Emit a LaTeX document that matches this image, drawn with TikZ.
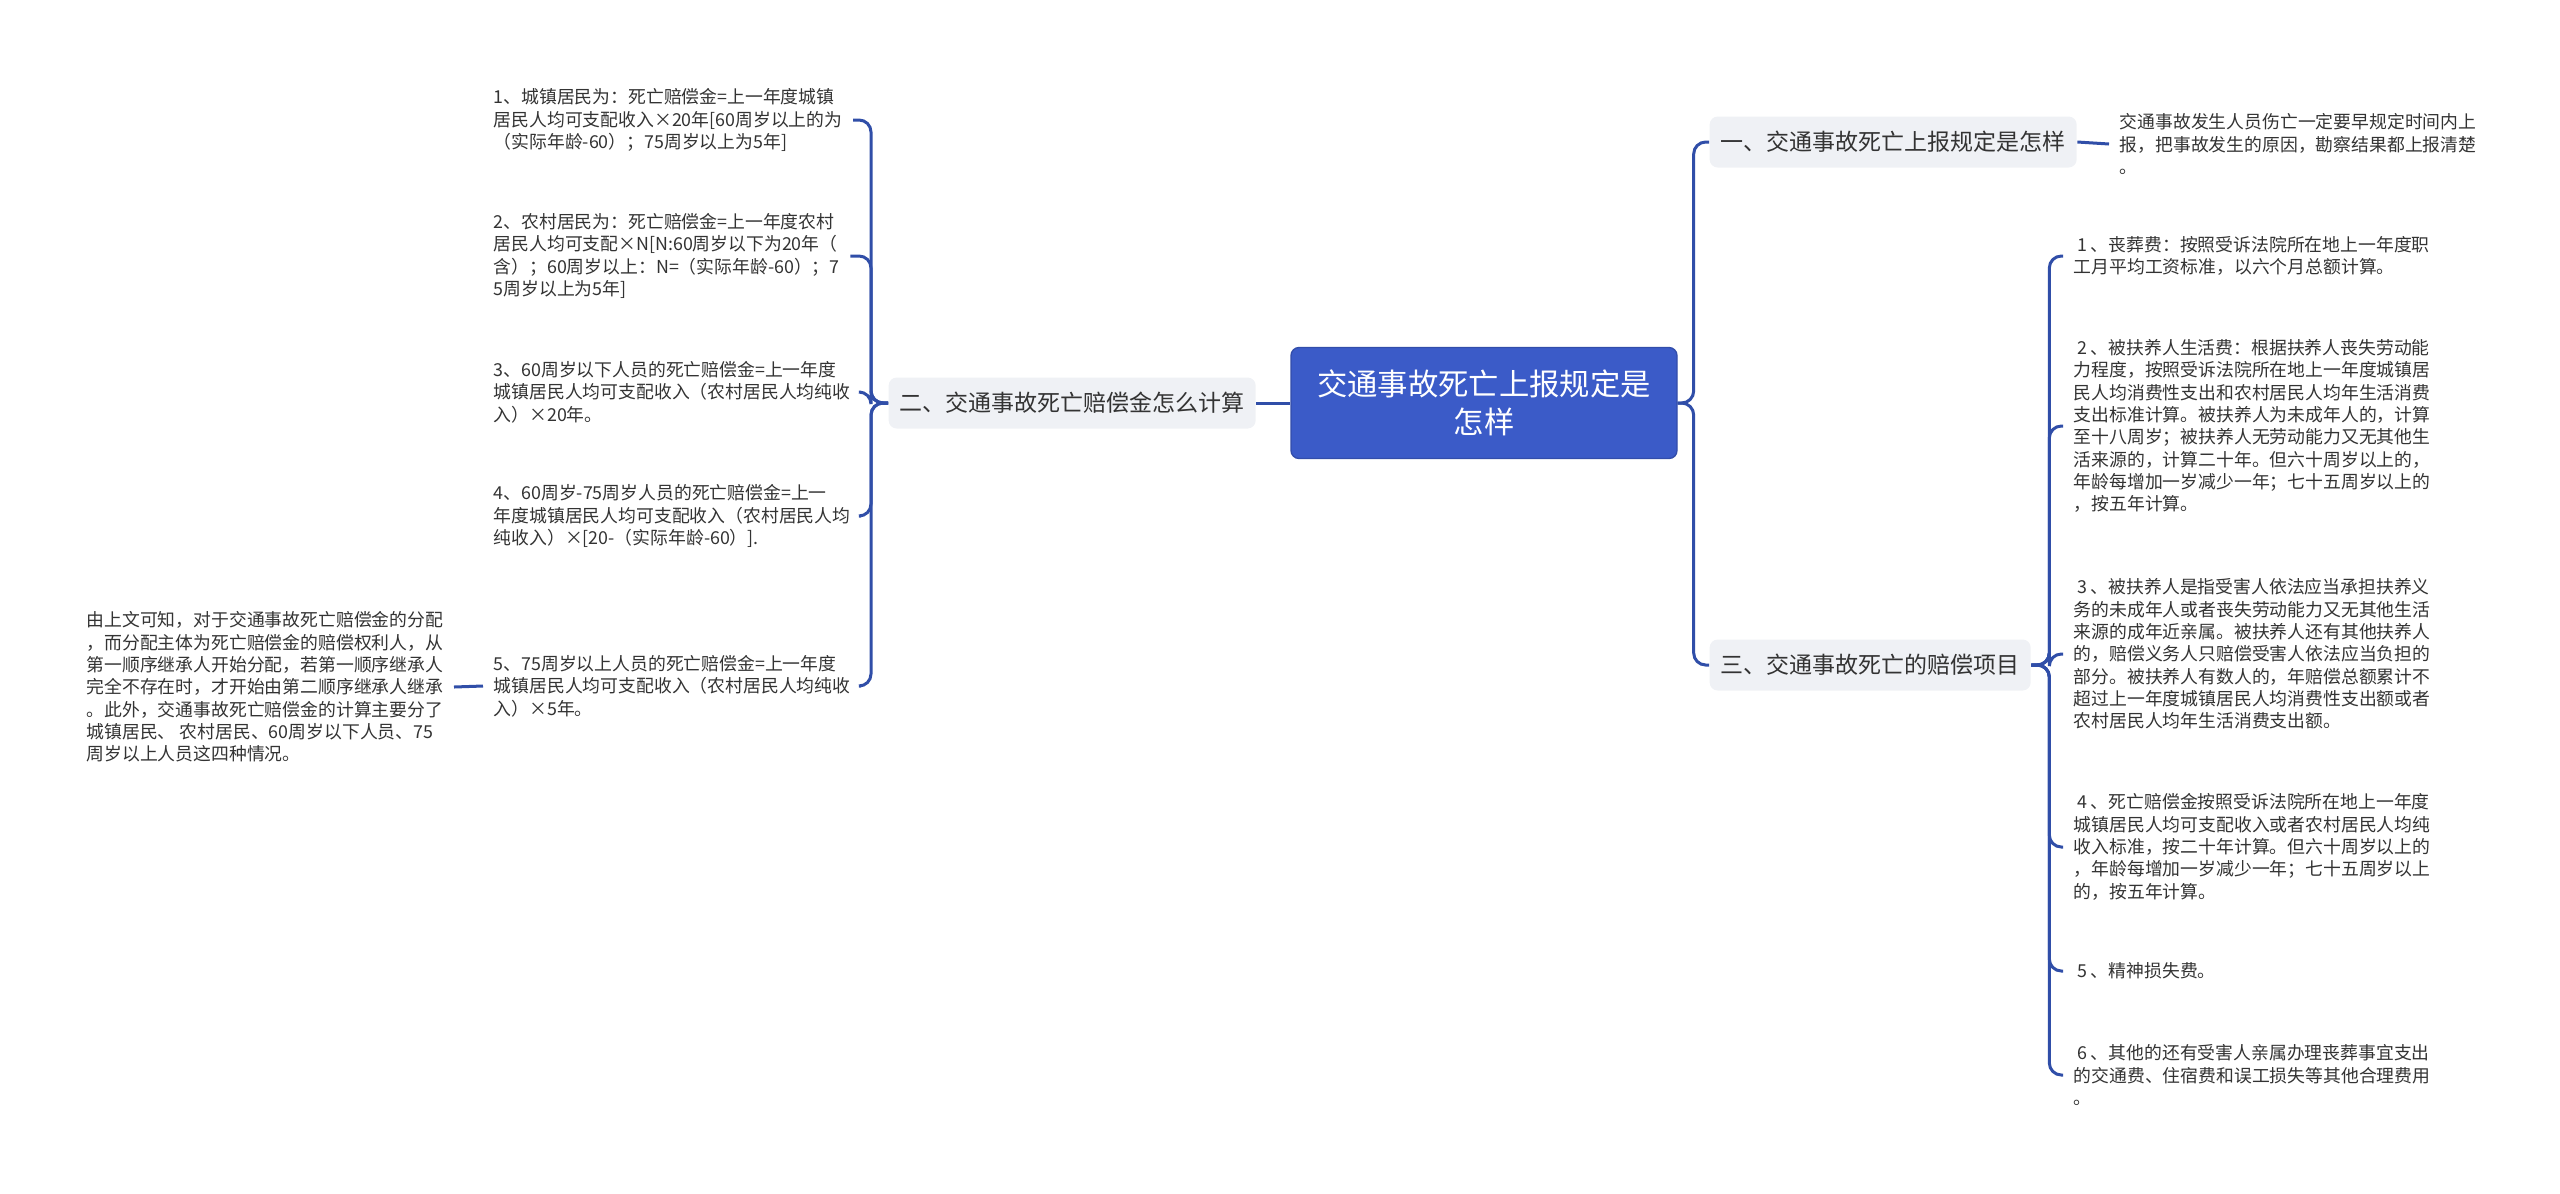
\documentclass[tikz,border=0pt]{standalone}
\usepackage{fontspec}
\setmainfont{Noto Sans CJK SC}
\usepackage{tikz}
\usetikzlibrary{positioning}
\definecolor{rootblue}{RGB}{59,91,200}
\definecolor{linkblue}{RGB}{48,78,168}
\definecolor{catgray}{RGB}{239,241,245}
\definecolor{txtgray}{RGB}{51,51,51}

\begin{document}
\begin{tikzpicture}[
        x=0.3pt, y=-0.3pt,
        root/.style={fill=rootblue, draw=rootblue!85!black, rounded corners=2.4pt, text=white, font=\fontsize{9.1}{11.4}\selectfont, align=center, minimum width=115.8pt, minimum height=33.3pt, inner sep=0pt},
        cat/.style={fill=catgray, rounded corners=2.4pt, text=txtgray, font=\fontsize{6.9}{8}\selectfont, inner xsep=3.3pt, inner ysep=0pt, minimum height=15.3pt},
        leaf/.style={text=txtgray, font=\fontsize{5.35}{6.7}\selectfont, align=left, inner xsep=3pt, inner ysep=0pt, anchor=west},
        link/.style={draw=linkblue, line width=0.9pt, rounded corners=3.6pt}
    ]
        \useasboundingbox (0,0) rectangle (2560,1193);

        % centre and main branches
        \node[root] (root) at (1484,403) {交通事故死亡上报规定是\\怎样};
        \node[cat, left=10.2pt of root] (er) {二、交通事故死亡赔偿金怎么计算};
        \node[cat, anchor=west] (yi) at (1709,142) {一、交通事故死亡上报规定是怎样};
        \node[cat, anchor=west] (san) at (1709,665) {三、交通事故死亡的赔偿项目};

        % left leaves
        \node[leaf] (l1) at (483,120) {1、城镇居民为：死亡赔偿金=上一年度城镇\\居民人均可支配收入×20年[60周岁以上的为\\（实际年龄-60）；75周岁以上为5年]};
        \node[leaf] (l2) at (483,256) {2、农村居民为：死亡赔偿金=上一年度农村\\居民人均可支配×N[N:60周岁以下为20年（\\含）；60周岁以上：N=（实际年龄-60）；7\\5周岁以上为5年]};
        \node[leaf] (l3) at (483,392) {3、60周岁以下人员的死亡赔偿金=上一年度\\城镇居民人均可支配收入（农村居民人均纯收\\入）×20年。};
        \node[leaf] (l4) at (483,516) {4、60周岁-75周岁人员的死亡赔偿金=上一\\年度城镇居民人均可支配收入（农村居民人均\\纯收入）×[20-（实际年龄-60）].};
        \node[leaf] (l5) at (483,686) {5、75周岁以上人员的死亡赔偿金=上一年度\\城镇居民人均可支配收入（农村居民人均纯收\\入）×5年。};
        \node[leaf] (sum) at (76,687) {由上文可知，对于交通事故死亡赔偿金的分配\\，而分配主体为死亡赔偿金的赔偿权利人，从\\第一顺序继承人开始分配，若第一顺序继承人\\完全不存在时，才开始由第二顺序继承人继承\\。此外，交通事故死亡赔偿金的计算主要分了\\城镇居民、 农村居民、60周岁以下人员、75\\周岁以上人员这四种情况。};

        % right leaves
        \node[leaf] (yitxt) at (2109,144) {交通事故发生人员伤亡一定要早规定时间内上\\报，把事故发生的原因，勘察结果都上报清楚\\。};
        \node[leaf] (r1) at (2063,256) {\hspace*{1pt}1 、丧葬费：按照受诉法院所在地上一年度职\\工月平均工资标准，以六个月总额计算。};
        \node[leaf] (r2) at (2063,426) {\hspace*{1pt}2 、被扶养人生活费：根据扶养人丧失劳动能\\力程度，按照受诉法院所在地上一年度城镇居\\民人均消费性支出和农村居民人均年生活消费\\支出标准计算。被扶养人为未成年人的，计算\\至十八周岁；被扶养人无劳动能力又无其他生\\活来源的，计算二十年。但六十周岁以上的，\\年龄每增加一岁减少一年；七十五周岁以上的\\，按五年计算。};
        \node[leaf] (r3) at (2063,654) {\hspace*{1pt}3 、被扶养人是指受害人依法应当承担扶养义\\务的未成年人或者丧失劳动能力又无其他生活\\来源的成年近亲属。被扶养人还有其他扶养人\\的，赔偿义务人只赔偿受害人依法应当负担的\\部分。被扶养人有数人的，年赔偿总额累计不\\超过上一年度城镇居民人均消费性支出额或者\\农村居民人均年生活消费支出额。};
        \node[leaf] (r4) at (2063,847) {\hspace*{1pt}4 、死亡赔偿金按照受诉法院所在地上一年度\\城镇居民人均可支配收入或者农村居民人均纯\\收入标准，按二十年计算。但六十周岁以上的\\，年龄每增加一岁减少一年；七十五周岁以上\\的，按五年计算。};
        \node[leaf] (r5) at (2063,971) {\hspace*{1pt}5 、精神损失费。};
        \node[leaf] (r6) at (2063,1075) {\hspace*{1pt}6 、其他的还有受害人亲属办理丧葬事宜支出\\的交通费、住宿费和误工损失等其他合理费用\\。};

        % connectors
        \foreach \c in {yi,san}
            \draw[link] (root.east) -- ++(16,0) |- (\c.west);
        \foreach \c in {l1,l2,l3,l4,l5}
            \draw[link] (er.west) -- ++(-17,0) |- (\c.east);
        \foreach \c in {r1,r2,r3,r4,r5,r6}
            \draw[link] (san.east) -- ++(18,0) |- (\c.west);
        \draw[link] (er.east) -- (root.west);
        \draw[link] (yi.east) -- (yitxt.west);
        \draw[link] (l5.west) -- (sum.east);
    \end{tikzpicture}
\end{document}
